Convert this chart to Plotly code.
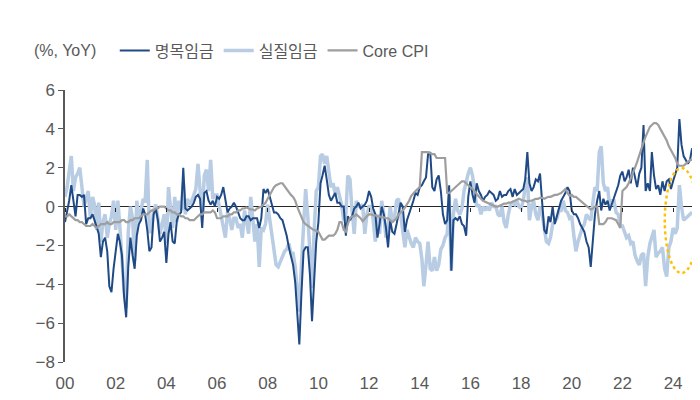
import pandas as pd
import plotly.graph_objects as go

start_month = "2000-01-01"

# 명목임금 (nominal wage, % YoY), monthly Jan 2000 - Oct 2024
nominal_wage = [
    -0.8, -0.3, 0.3, 1.1, 0.2, -0.5, 0.6, 0.6, 0.5, 0.6, -0.9, -0.6,      # 2000
    -0.6, -0.4, -0.7, -1.1, -1.4, -2.6, -1.8, -1.6, -2.3, -4.1, -4.4, -3.2,  # 2001
    -2.2, -1.4, -1.8, -2.5, -4.6, -5.7, -3.1, -1.6, -2.5, -3.2, -1.5, -0.9,  # 2002
    -0.7, -0.1, -0.4, -1.2, -2.3, -2.1, -0.4, -0.1, -0.7, -1.8, -1.6, -1.3,  # 2003
    -2.9, -1.4, -0.8, -1.8, -1.9, -0.7, -0.4, -0.3, 2.0, -0.1, -0.2, -0.1,   # 2004
    0.0, 0.2, 0.5, 0.6, 0.4, -1.1, 0.7, 0.8, 0.3, 0.1, 0.3, 0.0,             # 2005
    0.5, 0.4, 0.6, 1.0, 0.3, -0.3, -0.1, 0.0, 0.2, 0.0, -0.3, -0.6,          # 2006
    -0.7, -0.7, -0.5, -0.5, -0.7, -0.6, -0.6, -0.6, -1.1, -0.6, 0.9, 0.7,    # 2007
    0.9, 0.5, 0.1, -0.3, -0.3, -0.4, -0.6, -0.7, -1.1, -1.5, -2.1, -2.6,     # 2008
    -3.0, -3.9, -5.5, -7.1, -4.5, -2.3, -2.1, -2.1, -3.5, -5.9, -3.8, -1.8,  # 2009
    -0.8, 1.2, 1.6, 2.1, 1.4, 0.6, 0.3, 0.5, 0.7, 0.2, 0.2, 0.0,             # 2010
    0.0, -1.5, -0.5, -0.7, -0.5, -0.1, 0.0, 0.2, -0.1, 0.0, 0.1, 0.3,        # 2011
    0.8, 0.5, -0.1, -0.4, -1.6, -0.9, 0.0, -0.4, -1.1, -2.1, -0.7, -1.3,     # 2012
    -1.4, -0.9, -0.4, 0.2, 0.0, -1.3, -0.7, -0.4, -0.1, 0.3, 0.7, 0.6,       # 2013
    1.0, 1.1, 1.3, 1.5, 2.7, 2.8, 1.0, 0.8, 1.4, 1.6, 0.8, -0.4,             # 2014
    -0.9, -0.7, 1.1, -3.3, -0.7, -0.6, -0.7, -0.5, -0.9, -1.0, -1.5, 0.5,    # 2015
    1.3, 0.6, 0.2, 1.2, 0.8, 0.6, 0.3, 0.5, 0.6, 0.8, 0.7, 0.6,              # 2016
    0.3, 0.4, 0.8, 0.5, 0.6, 0.6, 0.8, 0.9, 0.5, 0.9, 0.6, 0.7,              # 2017
    0.8, 0.9, 1.4, 2.8, 1.2, 0.8, 1.0, 1.4, 1.3, 1.7, 0.2, -1.2,             # 2018
    -1.4, -0.5, -0.8, 0.0, -0.9, -0.5, -0.2, 0.3, 0.5, 0.7, 1.0, 0.8,        # 2019
    -0.2, -0.4, -0.4, -0.6, -0.9, -1.1, -1.3, -1.8, -2.1, -3.1, -1.8, -0.4,  # 2020
    0.3, 0.8, -0.2, 0.4, 0.1, 0.3, -0.2, 0.1, 0.5, 0.8, 1.1, 1.6,            # 2021
    1.8, 1.3, 1.5, 1.9, 1.2, 2.0, 1.5, 1.0, 1.7, 2.0, 4.2, 0.8,              # 2022
    1.2, 0.8, 2.8, 1.6, 0.9, 1.1, 0.6, 1.3, 0.8, 1.3, 1.4, 0.9,              # 2023
    1.3, 1.7, 2.0, 4.5, 3.2, 2.6, 2.4, 2.2, 2.4, 3.0,                        # 2024
]

# 실질임금 (real wage, % YoY)
real_wage = [
    0.5, 1.0, 1.8, 2.6, 0.8, 1.5, 1.7, 2.0, 1.0, 0.0, 0.4, 0.8,              # 2000
    -0.6, 0.5, 0.1, -1.2, 0.2, -1.8, -0.8, -0.4, -1.6, -0.9, -0.5, 0.3,      # 2001
    -1.2, 0.3, -1.0, -2.6, -4.3, -5.2, -1.3, 0.0, -0.6, -2.8, 0.3, -0.8,     # 2002
    -0.2, 0.4, 0.2, 2.4, -1.3, -1.3, -0.2, 0.1, -0.6, -1.4, -0.9, -0.4,      # 2003
    -1.9, 1.0, -0.1, -1.1, 0.5, -0.8, 0.3, -0.2, 1.2, -0.4, 0.4, 0.1,        # 2004
    0.3, 0.6, 0.9, 2.2, 0.8, -0.5, 1.6, 1.9, 0.8, 2.4, 0.4, 0.6,             # 2005
    0.6, 0.0, -0.4, -1.1, -1.6, -0.3, -0.6, -1.2, -0.6, -0.6, -1.1, -0.9,    # 2006
    -1.6, -0.2, -0.8, -1.4, 0.5, -0.9, -1.8, -0.9, -3.1, -1.1, -1.2, -0.9,   # 2007
    0.1, -0.7, -1.4, -2.1, -3.0, -3.1, -2.8, -2.6, -2.3, -2.2, -1.9, -2.4,   # 2008
    -2.4, -3.1, -4.0, -5.4, -3.0, -1.3, 0.9, -0.5, -2.3, -4.2, -1.2, 0.8,    # 2009
    1.0, 2.6, 2.7, 2.2, 2.6, 1.7, 1.0, 1.2, 0.6, 1.0, 0.6, 0.1,              # 2010
    -0.7, -0.4, 1.6, 1.4, -0.2, -1.4, 0.3, 0.0, 0.0, 0.1, -1.4, -0.4,        # 2011
    0.0, 0.0, -0.7, -1.8, -0.4, -1.4, 0.3, -0.4, -1.6, -1.1, 0.0, -0.8,      # 2012
    -0.6, 0.3, 0.4, -0.4, -1.3, -2.1, -1.2, -1.6, -1.9, -2.1, -1.6, -1.8,    # 2013
    -1.9, -2.7, -4.1, -3.0, -1.8, -3.2, -3.3, -2.6, -3.3, -3.0, -2.2, -2.0,  # 2014
    -1.6, -1.4, 0.6, -3.3, -0.4, 0.4, -0.2, -0.4, -0.1, 0.8, 1.3, 1.7,       # 2015
    2.0, 1.6, 0.8, 0.0, 0.1, -0.4, 0.0, -0.2, 0.0, -0.2, 0.2, 0.0,           # 2016
    0.0, -0.4, -0.5, 0.0, -0.8, -1.1, -0.4, 0.1, 0.2, 0.1, 0.3, 0.0,         # 2017
    -0.1, 0.3, 1.0, 1.5, -0.7, 0.0, 0.3, -0.4, -0.7, 0.0, -0.4, -1.2,        # 2018
    -1.8, -1.9, -1.6, -0.9, -0.8, -0.6, -0.2, -0.2, 0.3, -0.2, -0.3, -0.6,   # 2019
    -0.5, -1.5, -2.3, -1.8, -1.4, -1.1, -0.9, -0.4, -0.6, -0.7, 0.2, 1.0,    # 2020
    0.8, 2.8, 3.1, 1.2, 0.8, 1.0, 0.0, 0.3, 0.3, -0.3, -0.4, -1.0,           # 2021
    -1.0, -1.3, -1.6, -1.5, -1.9, -1.8, -2.5, -2.8, -3.0, -2.5, -2.4, -4.1,  # 2022
    -2.6, -1.9, -1.6, -1.2, -2.6, -2.4, -2.3, -2.1, -3.2, -3.6, -2.1, -1.8,  # 2023
    -1.1, -1.4, -1.1, 1.1, 0.0, -0.7, -0.6, -0.5, -0.4, -0.3,                # 2024
]

# Core CPI (% YoY)
core_cpi = [
    -0.5, -0.5, -0.4, -0.5, -0.6, -0.7, -0.7, -0.8, -0.8, -0.9, -1.0, -1.0,
    -1.0, -0.9, -1.0, -1.1, -1.0, -0.9, -0.9, -0.9, -0.8, -0.9, -0.9, -0.8,
    -0.8, -0.8, -0.8, -0.7, -0.7, -0.8, -0.8, -0.7, -0.7, -0.6, -0.6, -0.6,
    -0.5, -0.4, -0.4, -0.4, -0.3, -0.2, -0.2, -0.1, -0.1, 0.0, 0.0, 0.0,
    -0.1, -0.2, -0.2, -0.3, -0.3, -0.4, -0.4, -0.5, -0.5, -0.6, -0.6, -0.7,
    -0.7, -0.7, -0.6, -0.5, -0.4, -0.4, -0.3, -0.3, -0.3, -0.3, -0.2, -0.3,
    -0.6, -0.6, -0.6, -0.5, -0.5, -0.5, -0.4, -0.4, -0.3, -0.3, -0.2, -0.2,
    -0.1, -0.1, -0.05, -0.1, -0.15, -0.15, -0.2, -0.1, -0.05, 0.0, 0.1, 0.2,
    0.4, 0.6, 0.8, 1.0, 1.1, 1.15, 1.2, 1.2, 1.05, 0.9, 0.7, 0.6,
    0.5, 0.3, 0.0, -0.3, -0.6, -0.8, -0.9, -1.0, -1.1, -1.15, -1.2, -1.25,
    -1.3, -1.5, -1.7, -1.7, -1.6, -1.5, -1.5, -1.5, -1.4, -1.2, -0.8, -0.8,
    -1.2, -1.3, -0.9, -0.6, -0.5, -0.5, -0.4, -0.5, -0.6, -0.75, -0.6, -0.5,
    -0.4, -0.4, -0.45, -0.45, -0.5, -0.5, -0.55, -0.55, -0.6, -0.6, -0.7, -0.8,
    -0.7, -0.6, -0.4, -0.3, -0.2, -0.05, 0.1, 0.3, 0.55, 0.7, 0.8, 0.9,
    1.0, 2.8, 2.8, 2.8, 2.8, 2.75, 2.7, 2.7, 2.5, 2.5, 2.5, 2.5,
    2.5, 0.7, 0.7, 0.8, 0.9, 1.0, 1.1, 1.2, 1.3, 1.3, 1.2, 1.1,
    1.0, 0.9, 0.8, 0.65, 0.5, 0.4, 0.3, 0.25, 0.2, 0.15, 0.1, 0.05,
    0.0, 0.0, 0.05, 0.1, 0.15, 0.15, 0.2, 0.2, 0.25, 0.3, 0.35, 0.4,
    0.35, 0.3, 0.3, 0.25, 0.3, 0.3, 0.35, 0.4, 0.4, 0.45, 0.45, 0.4,
    0.45, 0.5, 0.5, 0.55, 0.6, 0.6, 0.65, 0.7, 0.8, 0.9, 0.7, 0.55,
    0.6, 0.5, 0.5, 0.4, 0.3, 0.2, 0.1, 0.0, -0.1, -0.15, -0.1, 0.0,
    0.0, -0.9, -0.9, -0.9, -0.8, -0.6, -0.6, -0.6, -0.65, -0.7, -0.9, -1.1,
    0.8, 0.9, 1.0, 1.2, 1.5, 1.7, 2.0, 2.3, 2.6, 3.0, 3.3, 3.6,
    3.9, 4.1, 4.2, 4.3, 4.3, 4.2, 4.0, 3.8, 3.6, 3.4, 3.1, 2.9,
    2.7, 2.5, 2.2, 2.1, 2.1, 2.1, 2.2, 2.3, 2.4, 2.4,
]

tick_years = list(range(2000, 2025, 2))
tick_labels = [f"{y % 100:02d}" for y in tick_years]
series_names = ["명목임금", "실질임금", "Core CPI"]
unit_label = "(%, YoY)"

dates = pd.date_range(start_month, periods=len(nominal_wage), freq="MS")
tick_vals = [pd.Timestamp(f"{y}-01-01") for y in tick_years]

FONT = "Liberation Sans Narrow, Arial Narrow, Liberation Sans, Noto Sans CJK KR, sans-serif"
TXT = "#595959"

fig = go.Figure()
fig.add_trace(go.Scatter(x=dates, y=real_wage, name=series_names[1], mode="lines",
                         line=dict(color="#B8CCE4", width=3.5), legendrank=2))
fig.add_trace(go.Scatter(x=dates, y=nominal_wage, name=series_names[0], mode="lines",
                         line=dict(color="#1F4A85", width=2), legendrank=1))
fig.add_trace(go.Scatter(x=dates, y=core_cpi, name=series_names[2], mode="lines",
                         line=dict(color="#9E9E9E", width=2.2), legendrank=3))
# helper trace for the zero-line tick axis
fig.add_trace(go.Scatter(x=[dates[0]], y=[0], xaxis="x2", mode="none",
                         showlegend=False, hoverinfo="skip"))

x_range = [pd.Timestamp("2000-01-01"), pd.Timestamp("2024-11-12")]

# the page body adds an 8px offset, so the figure is sized to fit the window
fig.update_layout(
    width=692, height=392,
    margin=dict(l=57, r=5, t=82, b=38),
    paper_bgcolor="white", plot_bgcolor="white",
    font=dict(family=FONT, color=TXT, size=16),
    xaxis=dict(type="date", range=x_range, tickvals=tick_vals, ticktext=tick_labels,
               showline=False, showgrid=False, zeroline=False,
               ticks="outside", ticklen=6, tickcolor="rgba(0,0,0,0)",
               tickfont=dict(size=17, color=TXT, family=FONT)),
    xaxis2=dict(type="date", overlaying="x", matches="x", anchor="free", position=8 / 14,
                side="bottom", tickvals=tick_vals, showticklabels=False,
                ticks="outside", ticklen=4, tickcolor="#262626", tickwidth=1,
                showline=False, showgrid=False, zeroline=False),
    yaxis=dict(range=[-8, 6], dtick=2, tick0=0, showline=True, linecolor="#595959",
               linewidth=1.5, ticks="outside", ticklen=5, tickcolor="#595959",
               showgrid=False, zeroline=True, zerolinecolor="#262626", zerolinewidth=1.2,
               tickfont=dict(size=17, color=TXT, family=FONT)),
    legend=dict(orientation="h", x=0.079, y=1.145, xanchor="left", yanchor="middle",
                font=dict(size=16, color=TXT, family=FONT), itemwidth=30,
                bgcolor="rgba(0,0,0,0)"),
    showlegend=True,
)

fig.add_annotation(text=unit_label, xref="paper", yref="paper", x=-0.052, y=1.145,
                   xanchor="left", yanchor="middle", showarrow=False,
                   font=dict(size=16, color=TXT, family=FONT))

# dotted highlight ellipse around the latest readings (paper coords so it is not clipped)
fig.add_shape(type="circle", xref="paper", yref="paper",
              x0=0.952, x1=1.005, y0=0.327, y1=0.713,
              line=dict(color="#FFC000", width=2.5, dash="dot"))

fig.write_html("out.html")
